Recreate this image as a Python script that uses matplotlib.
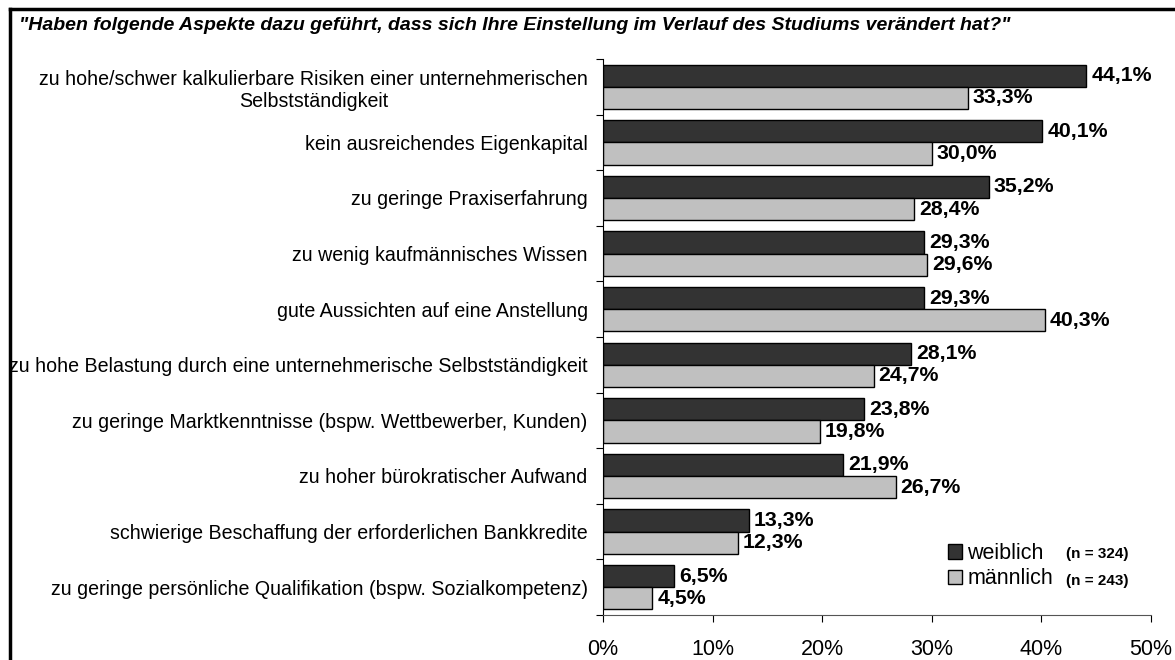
import matplotlib.pyplot as plt
import numpy as np
from matplotlib.lines import Line2D
from matplotlib.patches import Patch

plt.rcParams['font.family'] = ['Liberation Sans', 'DejaVu Sans']

# categories, top to bottom
categories = [
    "zu hohe/schwer kalkulierbare Risiken einer unternehmerischen\nSelbstständigkeit",
    "kein ausreichendes Eigenkapital",
    "zu geringe Praxiserfahrung",
    "zu wenig kaufmännisches Wissen",
    "gute Aussichten auf eine Anstellung",
    "zu hohe Belastung durch eine unternehmerische Selbstständigkeit",
    "zu geringe Marktkenntnisse (bspw. Wettbewerber, Kunden)",
    "zu hoher bürokratischer Aufwand",
    "schwierige Beschaffung der erforderlichen Bankkredite",
    "zu geringe persönliche Qualifikation (bspw. Sozialkompetenz)",
]
weiblich = [44.1, 40.1, 35.2, 29.3, 29.3, 28.1, 23.8, 21.9, 13.3, 6.5]
maennlich = [33.3, 30.0, 28.4, 29.6, 40.3, 24.7, 19.8, 26.7, 12.3, 4.5]
x_ticks = [0, 10, 20, 30, 40, 50]

dark = '#333333'
light = '#c0c0c0'

fig = plt.figure(figsize=(11.75, 6.6), dpi=100)
ax = fig.add_axes([603 / 1175, 1 - 615 / 660, 548 / 1175, 556 / 660])

n = len(categories)
centers = np.arange(n)
bh = 0.4
ax.barh(centers - bh / 2, weiblich, height=bh, color=dark, edgecolor='black', linewidth=1)
ax.barh(centers + bh / 2, maennlich, height=bh, color=light, edgecolor='black', linewidth=1)

for i in range(n):
    ax.text(weiblich[i] + 0.45, centers[i] - bh / 2, f"{weiblich[i]:.1f}%".replace('.', ','),
            va='center', ha='left', fontsize=15.3, fontweight='bold')
    ax.text(maennlich[i] + 0.45, centers[i] + bh / 2, f"{maennlich[i]:.1f}%".replace('.', ','),
            va='center', ha='left', fontsize=15.3, fontweight='bold')

ax.set_xlim(0, 50)
ax.set_ylim(n - 0.5, -0.5)
ax.set_xticks(x_ticks)
ax.set_xticklabels([f"{t}%" for t in x_ticks], fontsize=15.5)
ax.tick_params(axis='x', direction='out', length=5, pad=12, color='black')

# category labels as minor ticks, boundaries as major ticks
ax.set_yticks(np.arange(n + 1) - 0.5)
ax.set_yticklabels([])
ax.set_yticks(centers, minor=True)
ax.set_yticklabels(categories, minor=True, fontsize=14.1, ha='right', multialignment='center')
ax.tick_params(axis='y', which='major', direction='out', length=5)
ax.tick_params(axis='y', which='minor', length=0, pad=11)

for s in ['top', 'right']:
    ax.spines[s].set_visible(False)
ax.spines['bottom'].set_color('#555555')
ax.spines['left'].set_color('black')

# legend
handles = [Patch(facecolor=dark, edgecolor='black'), Patch(facecolor=light, edgecolor='black')]
leg = fig.legend(handles, ['weiblich', 'männlich'], loc='upper left',
                 bbox_to_anchor=(948 / 1175, 1 - 543 / 660), frameon=False,
                 fontsize=15.5, handlelength=0.65, handleheight=0.65, handletextpad=0.25,
                 labelspacing=0.2, borderpad=0, borderaxespad=0)
fig.text(1066 / 1175, 1 - 554 / 660, "(n = 324)", fontsize=11, fontweight='bold', va='center')
fig.text(1066 / 1175, 1 - 581 / 660, "(n = 243)", fontsize=11, fontweight='bold', va='center')

# title
fig.text(19 / 1175, 1 - 26 / 660,
         '"Haben folgende Aspekte dazu geführt, dass sich Ihre Einstellung im Verlauf des Studiums verändert hat?"',
         fontsize=14, fontweight='bold', style='italic', va='center', ha='left')

# frame lines
fig.add_artist(Line2D([9.5 / 1175, 1], [1 - 8.5 / 660] * 2, color='black', lw=2.5))
fig.add_artist(Line2D([9.5 / 1175] * 2, [0, 1 - 8.5 / 660], color='black', lw=2.5))

fig.savefig('out.png', dpi=100)
